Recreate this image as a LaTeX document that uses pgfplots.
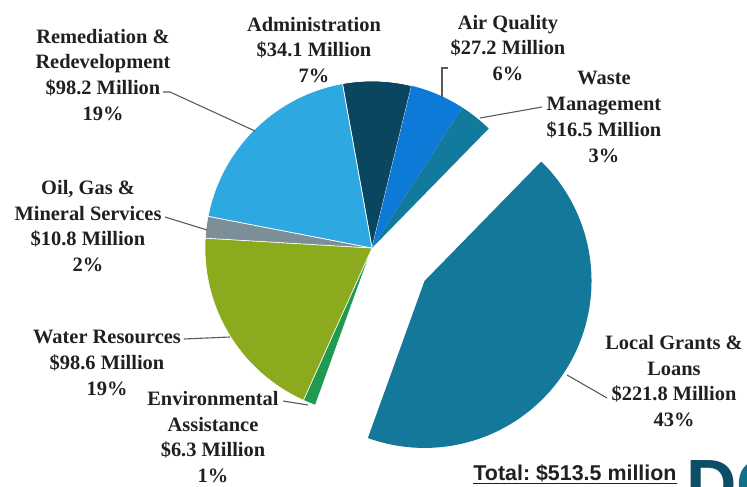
\documentclass[border=0pt]{standalone}
\usepackage{fontspec}
\setmainfont{Liberation Serif}
\newfontfamily\sansfont{Liberation Sans}
\usepackage{pgfplots}
\pgfplotsset{compat=1.18}
\definecolor{cRem}{HTML}{2EA8E0}
\definecolor{cAdm}{HTML}{0B4660}
\definecolor{cAir}{HTML}{0C7AD6}
\definecolor{cWas}{HTML}{127B9D}
\definecolor{cLoc}{HTML}{14789B}
\definecolor{cEnv}{HTML}{1F9A50}
\definecolor{cWat}{HTML}{8CAA1E}
\definecolor{cOil}{HTML}{7C8F99}
\definecolor{txt}{HTML}{231F20}
\definecolor{lead}{HTML}{5A5A5A}
\definecolor{cD}{HTML}{0D4E67}
\definecolor{cD2}{HTML}{13708A}
\tikzset{lbl/.style={align=center, font=\fontsize{20.5}{26}\selectfont\bfseries, text=txt, inner sep=0pt}}
\frenchspacing
\begin{document}
\begin{tikzpicture}
% values (million $), clockwise from the top
\def\vAdm{34.1}\def\vAir{27.2}\def\vWas{16.5}\def\vLoc{221.8}
\def\vEnv{6.3}\def\vWat{98.6}\def\vOil{10.8}\def\vRem{98.2}
\def\cx{372}\def\cy{248}\def\pr{167}
\pgfmathsetmacro\tot{\vAdm+\vAir+\vWas+\vLoc+\vEnv+\vWat+\vOil+\vRem}
\pgfmathsetmacro\aA{100.2}
\pgfmathsetmacro\aB{\aA-\vAdm/\tot*360}
\pgfmathsetmacro\aC{\aB-\vAir/\tot*360}
\pgfmathsetmacro\aD{\aC-\vWas/\tot*360}
\pgfmathsetmacro\aE{\aD-\vLoc/\tot*360}
\pgfmathsetmacro\aF{\aE-\vEnv/\tot*360}
\pgfmathsetmacro\aG{\aF-\vWat/\tot*360}
\pgfmathsetmacro\aH{\aG-\vOil/\tot*360}
\pgfmathsetmacro\aI{\aH-\vRem/\tot*360}
\pgfmathsetmacro\amid{(\aD+\aE)/2}
\pgfmathsetmacro\ex{\cx+62*cos(\amid)}
\pgfmathsetmacro\ey{\cy-62*sin(\amid)}
\begin{axis}[scale only axis, width=747bp, height=487bp,
  xmin=0, xmax=747, ymin=0, ymax=487, y dir=reverse, hide axis, clip=false]
\addplot[fill=cAdm, draw=white, line width=0.7pt, domain=\aB:\aA, samples=20] ({\cx+\pr*cos(x)},{\cy-\pr*sin(x)}) -- (axis cs:\cx,\cy) -- cycle;
\addplot[fill=cAir, draw=none, domain=\aC:\aB, samples=20] ({\cx+\pr*cos(x)},{\cy-\pr*sin(x)}) -- (axis cs:\cx,\cy) -- cycle;
\addplot[fill=cWas, draw=none, domain=\aD:\aC, samples=12] ({\cx+\pr*cos(x)},{\cy-\pr*sin(x)}) -- (axis cs:\cx,\cy) -- cycle;
\addplot[fill=cLoc, draw=none, domain=\aE:\aD, samples=90] ({\ex+\pr*cos(x)},{\ey-\pr*sin(x)}) -- (axis cs:\ex,\ey) -- cycle;
\addplot[fill=cEnv, draw=white, line width=0.5pt, domain=\aF:\aE, samples=5] ({\cx+\pr*cos(x)},{\cy-\pr*sin(x)}) -- (axis cs:\cx,\cy) -- cycle;
\addplot[fill=cWat, draw=white, line width=0.6pt, domain=\aG:\aF, samples=50] ({\cx+\pr*cos(x)},{\cy-\pr*sin(x)}) -- (axis cs:\cx,\cy) -- cycle;
\addplot[fill=cOil, draw=white, line width=0.6pt, domain=\aH:\aG, samples=8] ({\cx+\pr*cos(x)},{\cy-\pr*sin(x)}) -- (axis cs:\cx,\cy) -- cycle;
\addplot[fill=cRem, draw=white, line width=0.7pt, domain=\aI:\aH, samples=50] ({\cx+\pr*cos(x)},{\cy-\pr*sin(x)}) -- (axis cs:\cx,\cy) -- cycle;
% leader lines
\draw[lead, line width=1.1pt] (axis cs:163,92) -- (axis cs:170,92) -- (axis cs:255,131);
\draw[lead, line width=1.1pt] (axis cs:165,217) -- (axis cs:207,230);
\draw[lead, line width=1.1pt] (axis cs:184,339) -- (axis cs:230,337);
\draw[lead, line width=1.1pt] (axis cs:283,401) -- (axis cs:308,405);
\draw[lead, line width=1.1pt] (axis cs:442,97) -- (axis cs:442,68) -- (axis cs:448,68);
\draw[lead, line width=1.1pt] (axis cs:480,118) -- (axis cs:542,107);
\draw[lead, line width=1.1pt] (axis cs:567,375) -- (axis cs:607,398);
% labels
\node[lbl] at (axis cs:103,75) {Remediation \&\\Redevelopment\\\$98.2 Million\\19\%};
\node[lbl] at (axis cs:314,50) {Administration\\\$34.1 Million\\7\%};
\node[lbl] at (axis cs:508,48) {Air Quality\\\$27.2 Million\\6\%};
\node[lbl] at (axis cs:604,117) {Waste\\Management\\\$16.5 Million\\3\%};
\node[lbl] at (axis cs:674,381) {Local Grants \&\\Loans\\\$221.8 Million\\43\%};
\node[lbl] at (axis cs:88,226) {Oil, Gas \&\\Mineral Services\\\$10.8 Million\\2\%};
\node[lbl] at (axis cs:107,363) {Water Resources\\\$98.6 Million\\19\%};
\node[lbl] at (axis cs:213,437) {Environmental\\Assistance\\\$6.3 Million\\1\%};
\node[inner sep=0pt, text=txt, font=\sansfont\bfseries\fontsize{21.5}{24}\selectfont] at (axis cs:575,474) {\underline{Total: \$513.5 million}};
\node[anchor=base west, inner sep=0pt, font=\sansfont\bfseries\fontsize{70}{70}\selectfont] at (axis cs:686,508) {\textcolor{cD}{D}\textcolor{cD2}{O}};
\end{axis}
\pgfresetboundingbox
\path (current axis.south west) rectangle (current axis.north east);
\end{tikzpicture}
\end{document}
